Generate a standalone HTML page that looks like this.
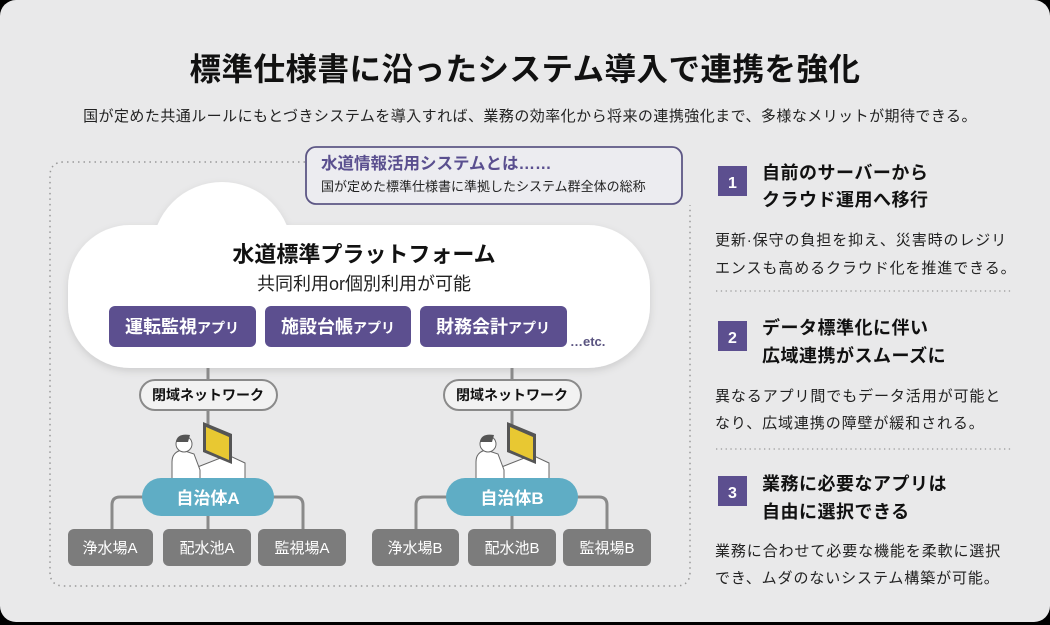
<!DOCTYPE html>
<html><head><meta charset="utf-8"><style>
html,body{margin:0;padding:0;background:#000;width:1050px;height:625px;overflow:hidden}
svg{display:block}
text{font-family:"Liberation Sans","Noto Sans CJK JP",sans-serif}
</style></head><body>
<svg width="1050" height="625" viewBox="0 0 1050 625" xmlns="http://www.w3.org/2000/svg">
<defs>
<filter id="sh" x="-10%" y="-10%" width="120%" height="130%"><feDropShadow dx="0" dy="3" stdDeviation="4" flood-color="#000" flood-opacity="0.12"/></filter>
</defs>
<rect x="0" y="0" width="1050" height="622" rx="16" fill="#e9e9ea"/>
<text x="525" y="80" text-anchor="middle" font-size="31.5" font-weight="bold" fill="#111" letter-spacing="0.5">標準仕様書に沿ったシステム導入で連携を強化</text>
<text x="530" y="121" text-anchor="middle" font-size="15" fill="#222" letter-spacing="0.45">国が定めた共通ルールにもとづきシステムを導入すれば、業務の効率化から将来の連携強化まで、多様なメリットが期待できる。</text>

<path d="M305 162 H64 Q50 162 50 176 V572 Q50 586 64 586 H676 Q690 586 690 572 V205" fill="none" stroke="#999" stroke-width="1.5" stroke-dasharray="1.5 4"/>
<rect x="306" y="147" width="376" height="57" rx="10" fill="#ececf0" stroke="#5d5785" stroke-width="1.8"/>
<text x="321" y="169" font-size="16.5" font-weight="bold" fill="#5a4f8f">水道情報活用システムとは……</text>
<text x="321" y="191" font-size="13" fill="#222">国が定めた標準仕様書に準拠したシステム群全体の総称</text>

<g filter="url(#sh)" fill="#fff">
<circle cx="222" cy="252" r="70"/>
<circle cx="128" cy="285" r="50"/>
<rect x="68" y="225" width="582" height="143" rx="62"/>
</g>
<text x="364" y="262" text-anchor="middle" font-size="22" font-weight="bold" fill="#111">水道標準プラットフォーム</text>
<text x="364" y="290" text-anchor="middle" font-size="18" fill="#222">共同利用or個別利用が可能</text>
<g font-weight="bold" fill="#fff">
<rect x="109" y="306" width="147" height="41" rx="6" fill="#5c4f8f"/>
<text x="182" y="333" text-anchor="middle" font-size="18">運転監視<tspan font-size="14">アプリ</tspan></text>
<rect x="265" y="306" width="146" height="41" rx="6" fill="#5c4f8f"/>
<text x="338" y="333" text-anchor="middle" font-size="18">施設台帳<tspan font-size="14">アプリ</tspan></text>
<rect x="420" y="306" width="147" height="41" rx="6" fill="#5c4f8f"/>
<text x="493" y="333" text-anchor="middle" font-size="18">財務会計<tspan font-size="14">アプリ</tspan></text>
</g>
<text x="570" y="346" font-size="13" font-weight="bold" fill="#5a5480">…etc.</text>

<g stroke="#8a8a8a" stroke-width="3" fill="none">
<line x1="208" y1="368" x2="208" y2="430"/>
<line x1="512" y1="368" x2="512" y2="430"/>
<path d="M150 497 H120 Q112 497 112 505 V530"/>
<line x1="208" y1="510" x2="208" y2="530"/>
<path d="M266 497 H295 Q303 497 303 505 V530"/>
<path d="M454 497 H424 Q416 497 416 505 V530"/>
<line x1="512" y1="510" x2="512" y2="530"/>
<path d="M570 497 H599 Q607 497 607 505 V530"/>
</g>
<g font-size="14" font-weight="bold" fill="#111">
<rect x="140" y="380" width="137" height="30" rx="15" fill="#f2f2f2" stroke="#8a8a8a" stroke-width="2"/>
<text x="208" y="400" text-anchor="middle">閉域ネットワーク</text>
<rect x="444" y="380" width="137" height="30" rx="15" fill="#f2f2f2" stroke="#8a8a8a" stroke-width="2"/>
<text x="512" y="400" text-anchor="middle">閉域ネットワーク</text>
</g>

<g id="pA">
<path d="M190 470 L228 455 L245 463 L245 482 L190 482 Z" fill="#fff" stroke="#666" stroke-width="1"/>
<path d="M203 422 L232 434 L232 464 L203 452 Z" fill="#555"/>
<path d="M206 427 L229 437 L229 460 L206 450 Z" fill="#e8c832"/>
<path d="M172 462 Q172 452 182 450 L194 454 L200 470 L200 482 L172 482 Z" fill="#fff" stroke="#666" stroke-width="1"/>
<circle cx="184" cy="444" r="8" fill="#fff" stroke="#666" stroke-width="1"/>
<path d="M176 442 Q177 433 190 435 L188 442 Z" fill="#555"/>
</g>
<use href="#pA" x="304"/>

<g font-weight="bold" fill="#fff" font-size="17">
<rect x="142" y="478" width="132" height="38" rx="19" fill="#5fadc5"/>
<text x="208" y="504" text-anchor="middle">自治体A</text>
<rect x="446" y="478" width="132" height="38" rx="19" fill="#5fadc5"/>
<text x="512" y="504" text-anchor="middle">自治体B</text>
</g>
<g fill="#7c7c7c">
<rect x="68" y="529" width="85" height="37" rx="6"/>
<rect x="163" y="529" width="88" height="37" rx="6"/>
<rect x="258" y="529" width="88" height="37" rx="6"/>
<rect x="372" y="529" width="87" height="37" rx="6"/>
<rect x="468" y="529" width="88" height="37" rx="6"/>
<rect x="563" y="529" width="88" height="37" rx="6"/>
</g>
<g fill="#fff" font-size="15" text-anchor="middle">
<text x="110" y="553">浄水場A</text>
<text x="207" y="553">配水池A</text>
<text x="302" y="553">監視場A</text>
<text x="415" y="553">浄水場B</text>
<text x="512" y="553">配水池B</text>
<text x="607" y="553">監視場B</text>
</g>

<g>
<rect x="718" y="166" width="29" height="30" fill="#5c4f8f"/>
<text x="732.5" y="188" text-anchor="middle" font-size="16" font-weight="bold" fill="#fff">1</text>
<text x="762" y="179" font-size="18" font-weight="bold" fill="#111" letter-spacing="0.5">自前のサーバーから</text>
<text x="762" y="206" font-size="18" font-weight="bold" fill="#111" letter-spacing="0.5">クラウド運用へ移行</text>
<g font-size="15" fill="#222" letter-spacing="0.9">
<text x="715" y="245">更新·保守の負担を抑え、災害時のレジリ</text>
<text x="715" y="273">エンスも高めるクラウド化を推進できる。</text>
</g>
<line x1="716" y1="291" x2="1012" y2="291" stroke="#999" stroke-width="1.3" stroke-dasharray="1.3 3.5"/>

<rect x="718" y="321" width="29" height="30" fill="#5c4f8f"/>
<text x="732.5" y="343" text-anchor="middle" font-size="16" font-weight="bold" fill="#fff">2</text>
<text x="762" y="334" font-size="18" font-weight="bold" fill="#111" letter-spacing="0.5">データ標準化に伴い</text>
<text x="762" y="362" font-size="18" font-weight="bold" fill="#111" letter-spacing="0.5">広域連携がスムーズに</text>
<g font-size="15" fill="#222" letter-spacing="0.9">
<text x="715" y="401">異なるアプリ間でもデータ活用が可能と</text>
<text x="715" y="428">なり、広域連携の障壁が緩和される。</text>
</g>
<line x1="716" y1="449" x2="1012" y2="449" stroke="#999" stroke-width="1.3" stroke-dasharray="1.3 3.5"/>

<rect x="718" y="476" width="29" height="30" fill="#5c4f8f"/>
<text x="732.5" y="498" text-anchor="middle" font-size="16" font-weight="bold" fill="#fff">3</text>
<text x="762" y="490" font-size="18" font-weight="bold" fill="#111" letter-spacing="0.5">業務に必要なアプリは</text>
<text x="762" y="518" font-size="18" font-weight="bold" fill="#111" letter-spacing="0.5">自由に選択できる</text>
<g font-size="15" fill="#222" letter-spacing="0.9">
<text x="715" y="556">業務に合わせて必要な機能を柔軟に選択</text>
<text x="715" y="583">でき、ムダのないシステム構築が可能。</text>
</g>
</g>
</svg>
</body></html>
